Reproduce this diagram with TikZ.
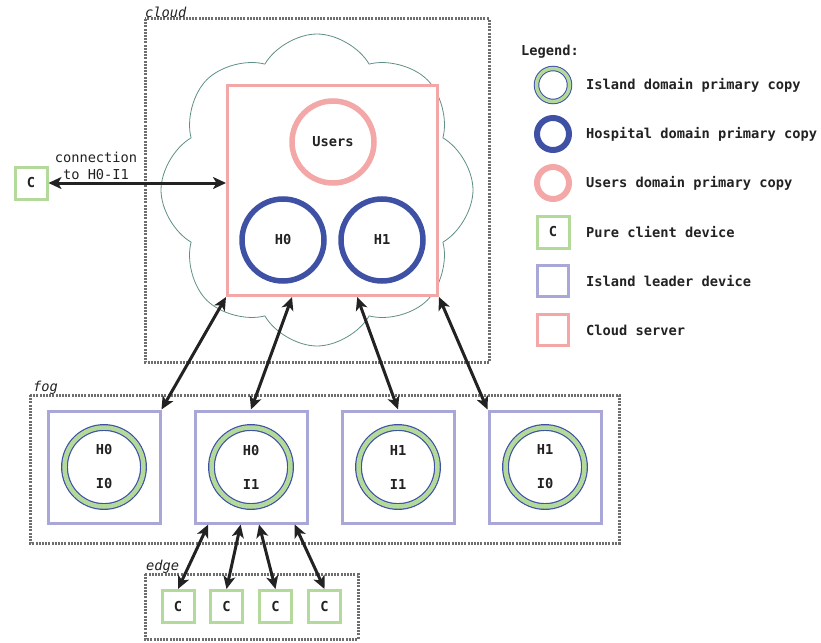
\documentclass[tikz,border=0pt]{standalone}
\usepackage{fontspec}
\setmainfont{DejaVu Sans Mono}
\usetikzlibrary{shapes.symbols,arrows.meta,calc}
\definecolor{cpink}{HTML}{F4A7A7}
\definecolor{cblue}{HTML}{3F51A5}
\definecolor{cgreen}{HTML}{B3D99B}
\definecolor{clav}{HTML}{A9A7D8}
\definecolor{cdot}{HTML}{6E6E6E}
\definecolor{ccloud}{HTML}{5F8F86}
\definecolor{cink}{HTML}{222222}
\tikzset{
  every node/.style={text=cink, font=\fontsize{13.7}{17}\selectfont},
  dotbox/.style={draw=cdot, line width=3pt, dash pattern=on 2pt off 1.2pt},
  zonelabel/.style={anchor=west, inner sep=0, font=\fontsize{13.7}{17}\selectfont\itshape},
  clientbox/.style={draw=cgreen, line width=3pt, fill=white, minimum size=32pt, inner sep=0, font=\fontsize{13.7}{17}\selectfont\bfseries},
  leaderbox/.style={draw=clav, line width=3pt, fill=white, minimum size=112pt, inner sep=0},
  serverbox/.style={draw=cpink, line width=3pt, fill=white, minimum width=210pt, minimum height=210pt, inner sep=0},
  islandc/.style={circle, draw=cblue, line width=1.2pt, double=cgreen, double distance=4.5pt, minimum size=79pt, inner sep=0, align=center, font=\fontsize{13.7}{17}\selectfont\bfseries},
  hospc/.style={circle, draw=cblue, line width=5.5pt, minimum size=82pt, inner sep=0, font=\fontsize{13.7}{17}\selectfont\bfseries},
  userc/.style={circle, draw=cpink, line width=5.5pt, minimum size=82pt, inner sep=0, font=\fontsize{13.7}{17}\selectfont\bfseries},
  conn/.style={draw=cink, line width=3pt, {Stealth[length=13pt,width=12pt,inset=3.5pt]}-{Stealth[length=13pt,width=12pt,inset=3.5pt]}},
  legtext/.style={anchor=west, inner sep=0, font=\fontsize{13.7}{17}\selectfont\bfseries},
}
\begin{document}
\begin{tikzpicture}[x=1pt,y=-1pt]
\useasboundingbox (0,0) rectangle (821,642);
% zone boxes
\draw[dotbox] (145,19) rectangle (489,362);
\node[zonelabel] (lcloud) at (145,12) {cloud};
\draw[dotbox] (30,395) rectangle (619,543);
\node[zonelabel] (lfog) at (33,388) {fog};
\draw[dotbox] (145,574) rectangle (358,639);
\node[zonelabel] (ledge) at (146,567) {edge};
% cloud shape
\node[cloud, draw=ccloud, line width=0.8pt, cloud puffs=8, cloud puff arc=120, aspect=1, minimum width=312pt, minimum height=312pt, inner sep=0] (cl) at (317,190) {};
% server
\node[serverbox] (srv) at (332.5,190.5) {};
\node[userc] (users) at (333,142) {Users};
\node[hospc] (h0) at (283,240) {H0};
\node[hospc] (h1) at (382,240) {H1};
% left client
\node[clientbox] (c0) at (31,183) {C};
\node[align=center, inner sep=0] (clab) at (96,166) {connection\\to H0-I1};
\draw[conn] (c0) -- (srv.west |- c0);
% fog leaders
\node[leaderbox] (L1) at (104,467) {};
\node[leaderbox] (L2) at (251,467) {};
\node[leaderbox] (L3) at (398,467) {};
\node[leaderbox] (L4) at (545,467) {};
\node[islandc] (i1) at (L1) {H0\\[17pt]I0};
\node[islandc] (i2) at (L2) {H0\\[17pt]I1};
\node[islandc] (i3) at (L3) {H1\\[17pt]I1};
\node[islandc] (i4) at (L4) {H1\\[17pt]I0};
% edge clients
\node[clientbox] (e1) at (178,606.5) {C};
\node[clientbox] (e2) at (226.5,606.5) {C};
\node[clientbox] (e3) at (275.5,606.5) {C};
\node[clientbox] (e4) at (324.5,606.5) {C};
% cloud-fog connectors
\coordinate (s2) at ($(srv.south west)!0.31!(srv.south east)$);
\coordinate (s3) at ($(srv.south west)!0.616!(srv.south east)$);
\draw[conn] (srv.south west) -- (L1.north east);
\draw[conn] (s2) -- (L2.north);
\draw[conn] (s3) -- (L3.north);
\draw[conn] (srv.south east) -- (L4.north west);
% fog-edge connectors
\coordinate (b1) at ($(L2.south west)!0.128!(L2.south east)$);
\coordinate (b2) at ($(L2.south west)!0.41!(L2.south east)$);
\coordinate (b3) at ($(L2.south west)!0.57!(L2.south east)$);
\coordinate (b4) at ($(L2.south west)!0.88!(L2.south east)$);
\draw[conn] (b1) -- (e1.north);
\draw[conn] (b2) -- (e2.north);
\draw[conn] (b3) -- (e3.north);
\draw[conn] (b4) -- (e4.north);
% legend
\node[legtext] (leg) at (521,52) {Legend:};
\node[circle, draw=cblue, line width=1pt, double=cgreen, double distance=3.5pt, minimum size=33pt, inner sep=0] (g1) at (553,85) {};
\node[legtext] (t1) at (586,85) {Island domain primary copy};
\node[circle, draw=cblue, line width=6pt, minimum size=32pt, inner sep=0] (g2) at (553,134) {};
\node[legtext] (t2) at (586,134) {Hospital domain primary copy};
\node[circle, draw=cpink, line width=6pt, minimum size=32pt, inner sep=0] (g3) at (553,183) {};
\node[legtext] (t3) at (586,183) {Users domain primary copy};
\node[clientbox] (g4) at (553,232) {C};
\node[legtext] (t4) at (586,232) {Pure client device};
\node[draw=clav, line width=3pt, minimum size=31pt, inner sep=0] (g5) at (553,281) {};
\node[legtext] (t5) at (586,281) {Island leader device};
\node[draw=cpink, line width=3pt, minimum size=31pt, inner sep=0] (g6) at (553,330) {};
\node[legtext] (t6) at (586,330) {Cloud server};
\end{tikzpicture}
\end{document}
